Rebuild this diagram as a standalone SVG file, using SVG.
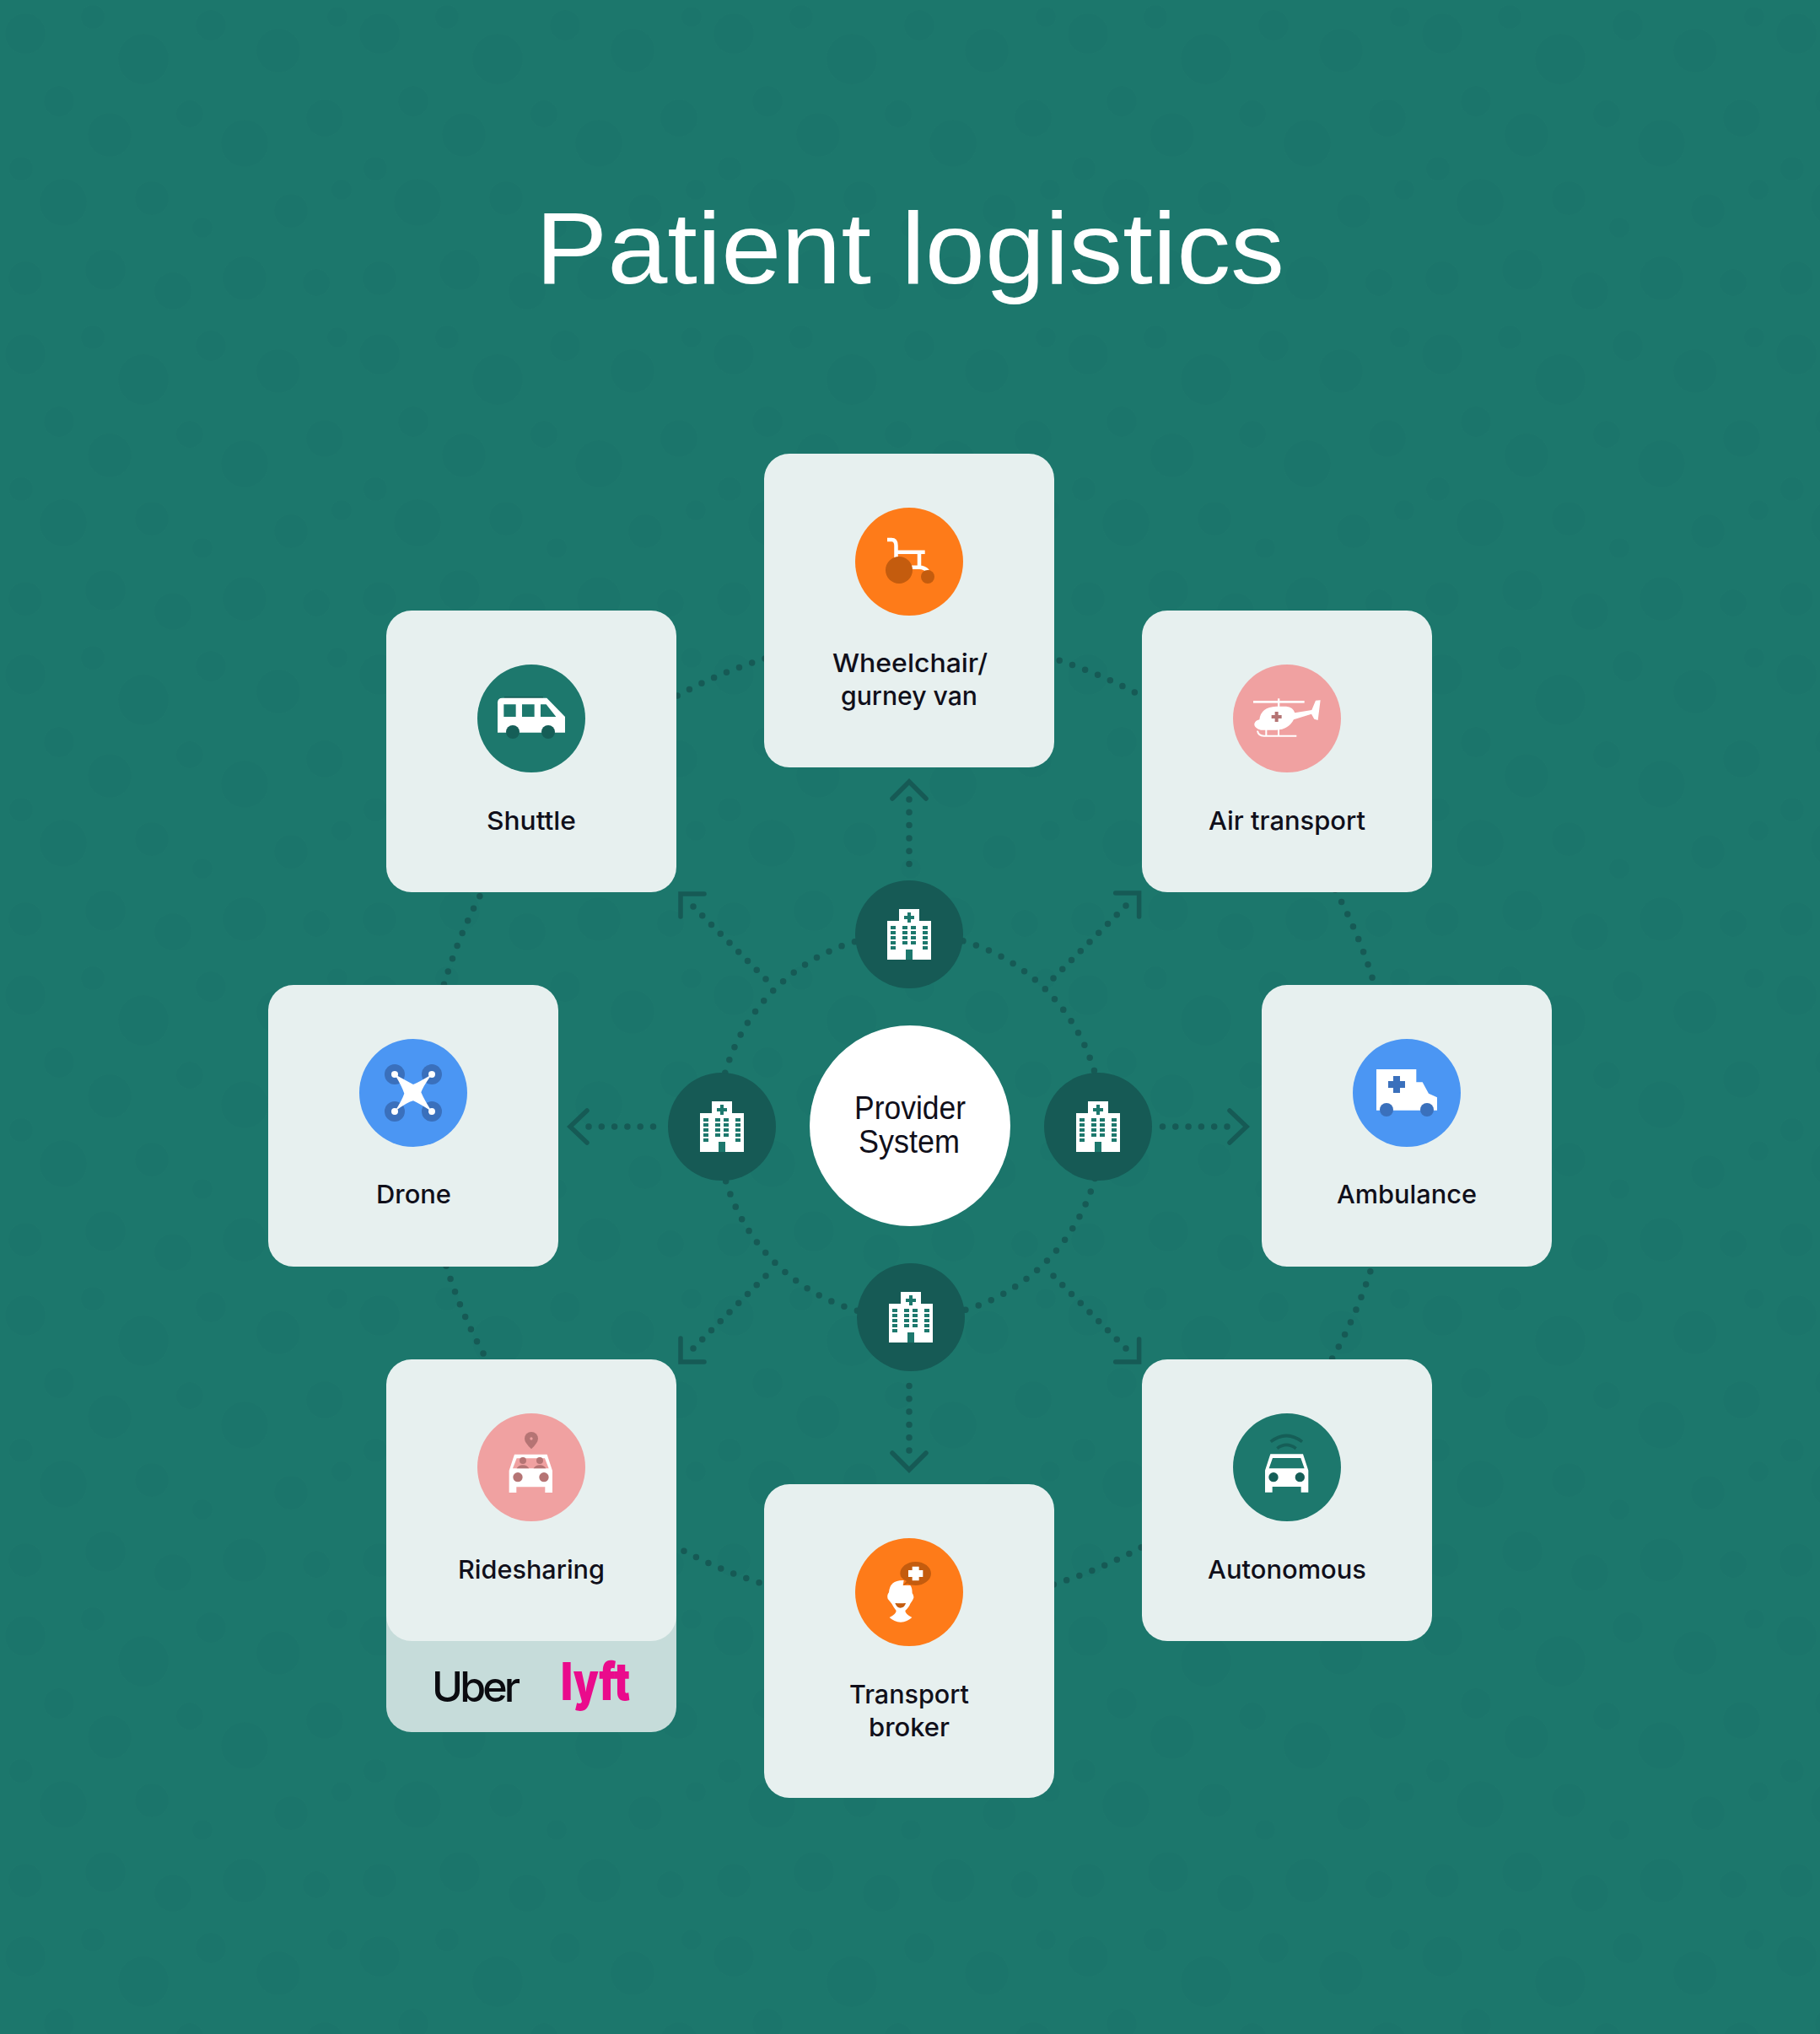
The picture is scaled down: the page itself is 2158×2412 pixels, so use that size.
<svg xmlns="http://www.w3.org/2000/svg" width="2158" height="2412" viewBox="0 0 2158 2412">
<style>
.card{fill:#e7f0ef}
.lbl{font-family:"Inter","Liberation Sans",sans-serif;font-weight:500;font-size:30.5px;fill:#100f1a}
.sys{font-family:"Liberation Sans",Arial,sans-serif;font-size:39px;fill:#100f1a}
.dots{fill:none;stroke:#165a55;stroke-width:7.5;stroke-linecap:round}
.head{fill:none;stroke:#165a55;stroke-width:5.5;stroke-linecap:round;stroke-linejoin:miter}
.hc{fill:#165a55}
.w{fill:#fff}.t{fill:#1d786d}.td{fill:#155e57}
.o{fill:#fe7b19}.od{fill:#c45c0e}
.p{fill:#f0a1a1}.pd{fill:#b57474}
.b{fill:#4b96f3}.bd{fill:#3a70bc}
</style>
<defs>
<pattern id="bg" width="420" height="380" patternUnits="userSpaceOnUse">
<g fill="#14635c" opacity="0.09">
<circle cx="30" cy="40" r="24"/><circle cx="110" cy="20" r="14"/><circle cx="170" cy="70" r="30"/><circle cx="250" cy="30" r="18"/><circle cx="330" cy="60" r="26"/><circle cx="400" cy="20" r="12"/>
<circle cx="70" cy="120" r="18"/><circle cx="130" cy="160" r="26"/><circle cx="225" cy="135" r="16"/><circle cx="290" cy="170" r="28"/><circle cx="385" cy="140" r="22"/>
<circle cx="25" cy="200" r="14"/><circle cx="75" cy="240" r="28"/><circle cx="180" cy="235" r="20"/><circle cx="240" cy="270" r="12"/><circle cx="345" cy="250" r="20"/><circle cx="405" cy="225" r="12"/>
<circle cx="30" cy="330" r="20"/><circle cx="125" cy="320" r="24"/><circle cx="205" cy="345" r="22"/><circle cx="290" cy="330" r="26"/><circle cx="375" cy="335" r="16"/>
</g>
</pattern>
<g id="hospital">
<path class="w" d="M-12-30H12V-16H26V30H-26V-16H-12Z"/>
<path class="t" d="M-2-26H2V-22H6V-18H2V-14H-2V-18H-6V-22H-2ZM-4 18H4V30H-4Z"/>
<path class="t" d="M-22-10h6v4h-6zM-22-4h6v4h-6zM-22 2h6v4h-6zM-22 8h6v4h-6zM-22 14h6v4h-6zM16-10h6v4h-6zM16-4h6v4h-6zM16 2h6v4h-6zM16 8h6v4h-6zM16 14h6v4h-6zM-8-10h6v4h-6zM-8-4h6v4h-6zM-8 2h6v4h-6zM-8 8h6v4h-6zM2-10h6v4h-6zM2-4h6v4h-6zM2 2h6v4h-6zM2 8h6v4h-6z"/>
</g>
<path id="carbody" d="M-58 0H58L77 58V136H51V116H-51V136H-77V58Z"/>
</defs>
<rect width="2158" height="2412" fill="#1c776c"/>
<rect width="2158" height="2412" fill="url(#bg)"/>
<text id="title" x="635" y="336" font-family="'Liberation Sans',Arial,sans-serif" font-size="120" fill="#fff" textLength="888" lengthAdjust="spacingAndGlyphs">Patient logistics</text>

<g id="connectors">
<circle class="dots" cx="1078" cy="1330" r="575" stroke-dasharray="0 16.13" transform="rotate(0.33 1078 1330)"/>
<circle class="dots" cx="1079" cy="1335" r="228" stroke-dasharray="0 16.28" transform="rotate(-0.47 1079 1335)"/>
<path class="dots" stroke-dasharray="0 15.2" d="M822 1075L909 1162M1335 1074L1248 1161M822 1599L909 1512M1335 1599L1248 1512"/>
<path class="dots" stroke-dasharray="0 15.3" d="M1078 948V1026M1078 1720V1642M698 1336H776M1455 1336H1377"/>
<path class="head" d="M835 1060H807V1087M1322.7 1059H1350.6V1087M835 1615H807V1587M1322.7 1615H1350.6V1588M1058 947L1078 927L1098 947M1058 1723L1078 1743L1098 1723M696 1317L676 1336L696 1355M1458 1317L1478 1336L1458 1355"/>
</g>

<g id="node-wheelchair">
<rect class="card" x="906" y="538" width="344" height="372" rx="30"/>
<circle class="o" cx="1078" cy="666" r="64"/>
<path fill="none" stroke="#fff" stroke-width="4.5" d="M1052 640H1057Q1062.5 640 1062.5 647V662M1062 654.8H1096.7M1090 655V673M1080 672.7H1090Q1096 672.7 1100 677"/>
<circle class="od" cx="1066" cy="676" r="16"/><circle class="od" cx="1100" cy="684" r="8"/>
<text class="lbl" x="987" y="797" textLength="184" lengthAdjust="spacingAndGlyphs">Wheelchair/</text>
<text class="lbl" x="997" y="836" textLength="162" lengthAdjust="spacingAndGlyphs">gurney van</text>
</g>

<g id="node-air-transport">
<rect class="card" x="1354" y="724" width="344" height="334" rx="30"/>
<circle class="p" cx="1526" cy="852" r="64"/>
<g transform="translate(1380 720) scale(.3333)">
<rect class="w" x="318" y="333" width="182" height="8"/><rect class="w" x="405" y="325" width="7" height="32"/>
<path class="w" d="M340 400Q345 355 400 353H435Q460 355 466 376L526 366L540 332L557 331L548 402L535 398L525 380L462 400Q445 435 400 437H345Q320 430 322 415Q325 403 340 400Z"/>
<path class="pd" d="M395 372H407V384H419V396H407V408H395V396H383V384H395Z"/>
<path fill="none" stroke="#fff" stroke-width="6" d="M333 440Q336 458 356 458H472M364 435V458M408 435V458"/>
</g>
<text class="lbl" x="1433" y="984" textLength="186" lengthAdjust="spacingAndGlyphs">Air transport</text>
</g>

<g id="node-shuttle">
<rect class="card" x="458" y="724" width="344" height="334" rx="30"/>
<circle class="t" cx="630" cy="852" r="64"/>
<g transform="translate(480 720) scale(.3333)">
<rect class="td" x="354" y="318" width="138" height="6"/>
<path class="w" d="M330 340Q330 323 347 323H505L570 390V446H330Z"/>
<path class="t" d="M352 346H395V390H352ZM417 346H461V390H417ZM483 346H503L538 390H483Z"/>
<circle class="td" cx="384" cy="444" r="24"/><circle class="td" cx="510" cy="444" r="24"/>
</g>
<text class="lbl" x="577" y="984" textLength="106" lengthAdjust="spacingAndGlyphs">Shuttle</text>
</g>

<g id="node-drone">
<rect class="card" x="318" y="1168" width="344" height="334" rx="30"/>
<circle class="b" cx="490" cy="1296" r="64"/>
<g transform="translate(360 1180) scale(.3333)">
<circle class="bd" cx="324" cy="282" r="36"/><circle class="bd" cx="456" cy="282" r="36"/><circle class="bd" cx="324" cy="414" r="36"/><circle class="bd" cx="456" cy="414" r="36"/>
<path class="w" d="M324 282Q375 310 390 318Q410 310 456 282Q425 325 418 346Q430 375 456 414Q410 385 390 376Q370 380 324 414Q350 375 358 350Q350 325 324 282Z"/>
<circle class="w" cx="324" cy="282" r="12"/><circle class="w" cx="456" cy="282" r="12"/><circle class="w" cx="324" cy="414" r="12"/><circle class="w" cx="456" cy="414" r="12"/>
</g>
<text class="lbl" x="446" y="1427" textLength="89" lengthAdjust="spacingAndGlyphs">Drone</text>
</g>

<g id="node-ambulance">
<rect class="card" x="1496" y="1168" width="344" height="334" rx="30"/>
<circle class="b" cx="1668" cy="1296" r="64"/>
<g transform="translate(1540 1180) scale(.3333)">
<path class="w" d="M276 264H418V310H440L462 350L492 364V410H276Z"/>
<path class="bd" d="M336 288H360V306H378V330H360V348H336V330H318V306H336Z"/>
<circle class="bd" cx="312" cy="408" r="24"/><circle class="bd" cx="456" cy="408" r="24"/>
</g>
<text class="lbl" x="1585" y="1427" textLength="166" lengthAdjust="spacingAndGlyphs">Ambulance</text>
</g>

<g id="node-ridesharing">
<rect x="458" y="1800" width="344" height="254" rx="30" fill="#c6dcda"/>
<rect class="card" x="458" y="1612" width="344" height="334" rx="30"/>
<circle class="p" cx="630" cy="1740" r="64"/>
<g transform="translate(440 1640) scale(.3333)">
<path class="pd" d="M570 235Q546 212 546 198A24 24 0 1 1 594 198Q594 212 570 235Z"/><circle class="p" cx="570" cy="198" r="5"/>
<use href="#carbody" class="w" x="568" y="254"/>
<path class="p" d="M518 268H618L632 304H504Z"/>
<circle class="pd" cx="540" cy="276" r="12"/><circle class="pd" cx="600" cy="276" r="12"/>
<path class="pd" d="M518 304Q525 292 540 292Q555 292 562 304ZM578 304Q585 292 600 292Q615 292 622 304Z"/>
<circle class="pd" cx="522" cy="335" r="17"/><circle class="pd" cx="615" cy="335" r="17"/>
</g>
<text class="lbl" x="543" y="1872" textLength="174" lengthAdjust="spacingAndGlyphs">Ridesharing</text>
<text x="512" y="2018" font-family="'Inter','Liberation Sans',sans-serif" font-weight="500" font-size="50" fill="#0b0b10" textLength="105" lengthAdjust="spacing">Uber</text>
<text x="665" y="2016" font-family="'Inter','Liberation Sans',sans-serif" font-weight="900" font-size="62" fill="#ea0b8c" textLength="82" lengthAdjust="spacingAndGlyphs">lyft</text>
</g>

<g id="node-autonomous">
<rect class="card" x="1354" y="1612" width="344" height="334" rx="30"/>
<circle class="t" cx="1526" cy="1740" r="64"/>
<g transform="translate(1420 1640) scale(.3333)">
<path fill="none" stroke="#155e57" stroke-width="11" d="M260 209Q316 166 372 209M283 233Q316 208 350 233"/>
<use href="#carbody" class="w" x="317" y="253"/>
<path class="t" d="M267 267H367L380 304H254Z"/>
<circle class="td" cx="270" cy="335" r="17"/><circle class="td" cx="364" cy="335" r="17"/>
</g>
<text class="lbl" x="1432" y="1872" textLength="188" lengthAdjust="spacingAndGlyphs">Autonomous</text>
</g>

<g id="node-transport-broker">
<rect class="card" x="906" y="1760" width="344" height="372" rx="30"/>
<circle class="o" cx="1078" cy="1888" r="64"/>
<g transform="translate(980 1790) scale(.3333)">
<path class="od" d="M272 270L285 255Q262 245 262 228C262 205 287 186 317 186C347 186 372 205 372 228C372 251 347 270 317 270C305 270 295 267 288 264Z"/>
<path class="w" d="M305 203H329V216H343V240H329V253H305V240H291V216H305Z"/>
<path class="w" d="M275 252Q225 250 222 295Q214 305 218 318Q228 330 232 335Q240 350 248 360Q248 372 224 384Q240 400 264 401Q288 400 304 384Q280 372 280 360Q295 345 298 335L305 325Q315 310 305 298Q305 278 298 270L272 270Z"/>
<path class="od" d="M244 333Q262 335 282 333Q278 350 262 350Q250 350 244 333Z"/>
</g>
<text class="lbl" x="1007" y="2020" textLength="142" lengthAdjust="spacingAndGlyphs">Transport</text>
<text class="lbl" x="1030" y="2059" textLength="96" lengthAdjust="spacingAndGlyphs">broker</text>
</g>

<g id="node-hospital-top"><circle class="hc" cx="1078" cy="1108" r="64"/><use href="#hospital" x="1078" y="1108"/></g>
<g id="node-hospital-left"><circle class="hc" cx="856" cy="1336" r="64"/><use href="#hospital" x="856" y="1336"/></g>
<g id="node-hospital-right"><circle class="hc" cx="1302" cy="1336" r="64"/><use href="#hospital" x="1302" y="1336"/></g>
<g id="node-hospital-bottom"><circle class="hc" cx="1080" cy="1562" r="64"/><use href="#hospital" x="1080" y="1562"/></g>

<g id="node-provider-system">
<circle class="w" cx="1079" cy="1335" r="119"/>
<text class="sys" x="1013" y="1327" textLength="132" lengthAdjust="spacingAndGlyphs">Provider</text>
<text class="sys" x="1018" y="1367" textLength="120" lengthAdjust="spacingAndGlyphs">System</text>
</g>
</svg>
